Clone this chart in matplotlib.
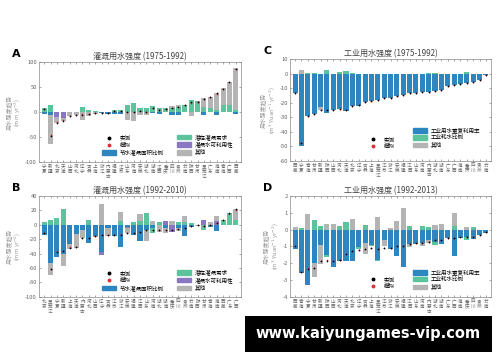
import numpy as np
import matplotlib.pyplot as plt
from matplotlib.patches import Patch
from matplotlib.lines import Line2D

plt.rcParams['font.family'] = ['Noto Sans CJK SC', 'DejaVu Sans']
plt.rcParams['axes.unicode_minus'] = False

BLUE = '#2e86c1'
GREEN = '#5cc49c'
PURPLE = '#8878c3'
GREY = '#b4b4b4'
TXT = '#666666'

# province order per panel
prov_A = ['宁夏', '新疆', '北京', '天津', '山西', '河北', '辽宁', '吉林', '上海', '浙江', '内蒙古',
          '福建', '江苏', '山东', '河南', '安徽', '湖北', '湖南', '江西', '重庆', '四川', '贵州',
          '云南', '陕西', '甘肃', '黑龙江', '广东', '海南', '青海', '广西', '西藏']
prov_B = ['北京', '黑龙江', '宁夏', '新疆', '上海', '天津', '内蒙古', '河北', '山西', '辽宁', '吉林',
          '江苏', '浙江', '安徽', '福建', '江西', '山东', '河南', '湖北', '湖南', '重庆', '四川',
          '贵州', '云南', '陕西', '甘肃', '青海', '海南', '西藏', '广东', '广西']
prov_C = ['西藏', '宁夏', '青海', '甘肃', '新疆', '陕西', '山西', '河北', '天津', '北京', '辽宁',
          '吉林', '上海', '黑龙江', '江苏', '浙江', '安徽', '福建', '江西', '山东', '河南',
          '内蒙古', '湖北', '湖南', '广东', '广西', '海南', '重庆', '四川', '贵州', '云南']
prov_D = ['西藏', '青海', '宁夏', '甘肃', '新疆', '陕西', '山西', '河北', '天津', '北京', '辽宁',
          '吉林', '上海', '黑龙江', '江苏', '浙江', '安徽', '福建', '江西', '山东', '河南',
          '内蒙古', '湖北', '湖南', '广东', '广西', '海南', '重庆', '四川', '贵州', '云南']

# A: irrigation 1975-1992 (mm yr-2)
blue_A = [-3, -5, 0, 0, 0, 0, 0, 0, 0, -2, -3, -3, -3, 0, 0, 0, 0, -2, -3, 0, -5, -5, 0, 0, 0, -5, 0, -5, 0, 0, -3]
green_A = [8, 15, 0, 0, 0, 0, 10, 4, 3, 0, 0, 5, 5, 15, 18, 9, 8, 12, 8, 8, 8, 10, 14, 24, 22, 10, 8, 5, 15, 15, 5]
purple_A = [0, 0, -10, -12, 0, 0, 0, 0, 0, 0, 0, 0, 0, 0, 0, 0, 0, 0, 0, 0, 0, 0, 0, 0, 0, 0, 0, 0, 0, 0, 0]
grey_A = [0, -58, -12, -6, -8, -5, -15, -7, -3, 0, 0, 0, 0, -15, -18, -5, -5, 0, 0, 0, 5, 5, 0, -8, 0, 18, 22, 33, 32, 45, 82]
obs_A = [7, -47, -21, -17, -8, -5, -5, -3, -2, -2, -2, 2, 2, 0, 0, 3, 0, 8, 5, 7, 8, 10, 14, 20, 21, 27, 29, 37, 45, 60, 86]
sim_A = [6, -45, -20, -16, -8, -5, -4, -3, -2, -2, -2, 2, 2, 1, 1, 3, 1, 8, 5, 7, 8, 10, 14, 19, 21, 27, 29, 36, 45, 60, 85]

# B: irrigation 1992-2010 (mm yr-2)
blue_B = [-14, -53, -45, -40, -27, -13, -8, -25, -16, -38, -5, -15, -31, -3, -14, -23, -8, -4, 0, -4, 0, -5, -16, -3, -1, 0, -3, -9, 0, 0, 0]
green_B = [4, 7, 9, 22, 0, 0, 0, 7, 0, 0, 0, 0, 5, 0, 4, 5, 16, -8, 4, 0, 0, 4, 4, 2, 0, -7, 0, 0, 6, 16, 6]
purple_B = [0, 0, 0, 0, 0, 0, 0, 0, 0, -4, 0, 0, 0, -2, 0, 0, 0, 0, 0, 5, -10, 0, 0, 0, 0, 6, 0, 5, 0, 0, 0]
grey_B = [0, -17, 0, -17, -6, -19, -10, 0, -1, 29, -10, 0, 13, -7, 0, 10, -15, 5, -10, -8, 5, -4, 8, 0, -1, 0, 4, 7, 0, 0, 16]
obs_B = [-12, -62, -38, -37, -32, -31, -19, -18, -16, -14, -14, -14, -14, -12, -11, -10, -7, -8, -7, -8, -7, -6, -5, -2, -1, -2, -1, 3, 7, 16, 22]
sim_B = [-12, -61, -37, -37, -31, -31, -19, -18, -16, -14, -14, -14, -13, -12, -11, -10, -7, -8, -7, -8, -7, -6, -5, -2, -1, -2, -1, 3, 7, 15, 21]

# C: industry 1975-1992 (m3 Yuan-1 yr-2)
blue_C = [-13.5, -50, -29, -28, -23, -27, -25, -24.5, -25.5, -22, -22, -19.5, -19, -18, -17, -16.5, -15.5,
          -14.5, -13.5, -13, -12.5, -12.5, -12, -11, -8.5, -7.5, -7, -6.5, -5.5, -4, -1]
green_C = [0, 0, 0.3, 0.3, 0, 2.5, 0, 1.5, 2, 0.5, 0, 0, 0, 0, 0, 0, 0, 0, 0, 0, 0, 0.5, 0.5, 0, 0, 0, 0, 1, 0, 0, 0]
grey_C = [0, 3, 0, 0, -2, 0, 0, 0, 0, 0, 0, 0, 0, 0, 0, 0, 0, 0, 0, 0, 0, 0, 0, 0, 0, 0, 0, 0, 0, 0, 0]
obs_C = [-13.5, -48, -29, -28, -25, -25, -25, -24, -25, -22, -21.5, -19.5, -19, -18, -17, -16.5, -15.5,
         -14.5, -13.5, -13, -12.5, -12.5, -12, -11, -8.5, -7.5, -7, -6, -5.5, -4, -1]
sim_C = [-13.5, -48, -29, -28, -25, -25, -25, -24, -25, -22, -21.5, -19.5, -19, -18, -17, -16.5, -15.5,
         -14.5, -13.5, -13, -12.5, -12.5, -12, -11, -8.5, -7.5, -7, -6, -5.5, -4, -1]

# D: industry 1992-2013 (m3 Yuan-1 yr-2)
blue_D = [-1.15, -2.6, -3.3, -2.0, -0.9, -1.5, -2.2, -1.9, -1.9, -1.9, -1.05, -0.8, -0.9, -1.8, -0.65, -1.15,
          -1.55, -2.25, -0.85, -0.85, -0.8, -0.6, -0.75, -0.85, -0.5, -1.55, -0.5, -0.45, -0.55, -0.35, -0.2]
green_D = [0, 0.1, 0, 0.55, 0.2, -0.15, 0, 0.2, 0.45, 0, -0.1, 0.25, -0.1, -0.1, 0, 0,
           0, 0, 0.2, 0, 0.2, 0.15, -0.2, 0, 0, 0.2, 0, -0.15, 0.15, 0, 0]
grey_D = [0.15, 0, 0.95, -0.8, -1.15, 0.35, 0.35, 0, 0, 0.6, 0, -0.65, 0, 0.75, -0.35, 0.1,
          0.5, 1.25, -0.2, 0, -0.2, -0.2, 0.25, 0.3, 0, 0.8, 0, 0.15, 0, 0, 0]
obs_D = [-1.0, -2.55, -2.35, -2.3, -1.9, -1.85, -1.85, -1.8, -1.45, -1.3, -1.2, -1.15, -1.1, -1.15, -1.1, -1.1,
         -1.0, -1.0, -0.85, -0.8, -0.8, -0.75, -0.65, -0.6, -0.5, -0.5, -0.45, -0.45, -0.45, -0.3, -0.15]
sim_D = [-1.0, -2.5, -2.3, -2.3, -1.9, -1.8, -1.85, -1.8, -1.45, -1.3, -1.2, -1.15, -1.1, -1.15, -1.1, -1.1,
         -1.0, -1.0, -0.85, -0.8, -0.8, -0.75, -0.65, -0.6, -0.5, -0.5, -0.45, -0.45, -0.45, -0.3, -0.15]

# legend anchors (axes fraction) for the marker column and the patch column
leg_left_anchor = {'A': (0.31, 0.07), 'B': (0.31, 0.06), 'C': (0.378, 0.115), 'D': (0.378, 0.075)}
leg_right_anchor = {'A': (0.683, 0.07), 'B': (0.683, 0.06), 'C': (0.612, 0.125), 'D': (0.612, 0.07)}


def draw_panel(ax, provs, comps, obs, sim, ylim, yticks, title, letter, ylabel, leg_left, leg_right):
    x = np.arange(len(provs))
    pos = np.zeros(len(provs))
    neg = np.zeros(len(provs))
    for vals, color in comps:
        v = np.array(vals, dtype=float)
        bottom = np.where(v >= 0, pos, neg)
        ax.bar(x, v, bottom=bottom, width=0.8, color=color, linewidth=0)
        pos = pos + np.where(v > 0, v, 0)
        neg = neg + np.where(v < 0, v, 0)
    ax.scatter(x, sim, s=1.5, color='#e0303a', zorder=3, linewidths=0)
    ax.scatter(x, obs, s=1.5, color='black', zorder=4, linewidths=0)

    ax.set_xlim(-0.8, len(provs) - 0.2)
    ax.set_ylim(*ylim)
    ax.set_yticks(yticks)
    ax.set_xticks(x)
    ax.set_xticklabels(['\n'.join(p) for p in provs], fontsize=3.3, linespacing=0.95, color=TXT)
    ax.tick_params(axis='y', labelsize=4.2, colors=TXT, length=1.5, width=0.4, direction='in', right=True, pad=1.5)
    ax.tick_params(axis='x', length=1.2, width=0.4, direction='in', top=True, pad=1.5, colors=TXT)
    for s in ax.spines.values():
        s.set_linewidth(0.5)
        s.set_color('#888888')
    ax.set_title(title, fontsize=5.8, color='#444444', pad=2)
    ax.set_ylabel(ylabel, fontsize=4.2, color='#999999', labelpad=2, linespacing=1.2)
    ax.text(-0.09, 1.03, letter, transform=ax.transAxes, fontsize=8, fontweight='bold',
            family='DejaVu Sans', ha='right', va='bottom')

    opts = dict(fontsize=4, frameon=False, handlelength=2.6, handleheight=0.9, handletextpad=0.6,
                labelspacing=0.3, borderpad=0, borderaxespad=0, loc='lower left')
    l1 = ax.legend(handles=leg_left, bbox_to_anchor=leg_left_anchor[letter], **opts)
    ax.add_artist(l1)
    ax.legend(handles=leg_right, bbox_to_anchor=leg_right_anchor[letter], **opts)


dot_obs = Line2D([], [], marker='o', ls='none', color='black', markersize=1.8, label='实测')
dot_sim = Line2D([], [], marker='o', ls='none', color='#e0303a', markersize=1.8, label='模拟')

fig = plt.figure(figsize=(5, 3.62), dpi=100)
axA = fig.add_axes([0.078, 0.552, 0.404, 0.277])
axC = fig.add_axes([0.580, 0.556, 0.402, 0.280])
axB = fig.add_axes([0.078, 0.180, 0.404, 0.279])
axD = fig.add_axes([0.580, 0.180, 0.402, 0.279])

ylab_irr = '用水强度趋势\n(mm yr$^{-2}$)'
ylab_ind = '用水强度趋势\n(m$^3$ Yuan$^{-1}$ yr$^{-2}$)'

irr_left = [dot_obs, dot_sim, Patch(color=BLUE, label='节水灌溉面积比例')]
irr_right = [Patch(color=GREEN, label='潜在灌溉需求'), Patch(color=PURPLE, label='灌溉水可利用性'),
             Patch(color=GREY, label='其他')]
ind_left = [dot_obs, dot_sim]
ind_right = [Patch(color=BLUE, label='工业用水重复利用率'), Patch(color=GREEN, label='工业耗水比例'),
             Patch(color=GREY, label='其他')]

draw_panel(axA, prov_A, [(blue_A, BLUE), (green_A, GREEN), (purple_A, PURPLE), (grey_A, GREY)],
           obs_A, sim_A, (-100, 100), [-100, -50, 0, 50, 100], '灌溉用水强度 (1975-1992)', 'A',
           ylab_irr, irr_left, irr_right)
draw_panel(axB, prov_B, [(blue_B, BLUE), (green_B, GREEN), (purple_B, PURPLE), (grey_B, GREY)],
           obs_B, sim_B, (-100, 40), [-100, -80, -60, -40, -20, 0, 20, 40], '灌溉用水强度 (1992-2010)', 'B',
           ylab_irr, irr_left, irr_right)
draw_panel(axC, prov_C, [(blue_C, BLUE), (green_C, GREEN), (grey_C, GREY)],
           obs_C, sim_C, (-60, 10), [-60, -50, -40, -30, -20, -10, 0, 10], '工业用水强度 (1975-1992)', 'C',
           ylab_ind, ind_left, ind_right)
draw_panel(axD, prov_D, [(blue_D, BLUE), (green_D, GREEN), (grey_D, GREY)],
           obs_D, sim_D, (-4, 2), [-4, -3, -2, -1, 0, 1, 2], '工业用水强度 (1992-2013)', 'D',
           ylab_ind, ind_left, ind_right)

# watermark box in the reference
fig.text(0.736, 0.0775, 'www.kaiyungames-vip.com', ha='center', va='center', fontsize=10.5,
         fontweight='bold', color='white', family='DejaVu Sans',
         bbox=dict(boxstyle='square,pad=0.75', facecolor='black', edgecolor='none'))

fig.savefig('out.png', dpi=100)
